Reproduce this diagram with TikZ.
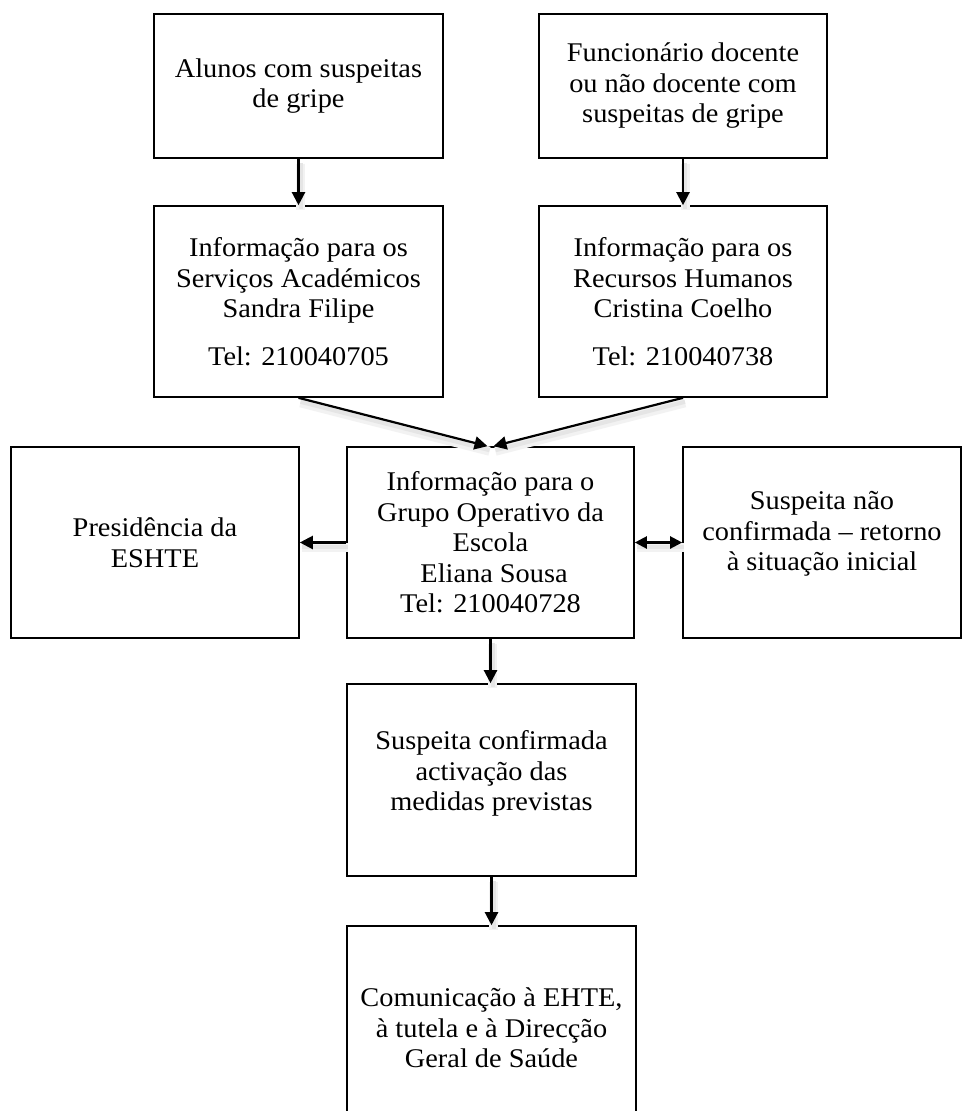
\documentclass[tikz,border=0pt]{standalone}
\usepackage{fontspec}
\setmainfont[FakeStretch=1.05]{Liberation Serif}
\usetikzlibrary{arrows.meta,calc}
\tikzset{
  box/.style={draw=black, line width=1.6pt, inner sep=0pt, align=center,
    font=\fontsize{27}{30.5}\selectfont},
  shadowed/.style={
    preaction={draw=black!5, line width=9pt, -, transform canvas={shift={(2pt,-5pt)}}},
    preaction={draw=black!10, line width=4pt, -, transform canvas={shift={(2pt,-4pt)}}}},
  arr/.style={-{Triangle[length=13pt,width=13pt]}, line width=2.2pt, shadowed},
  darr/.style={{Triangle[length=12pt,width=12pt]}-{Triangle[length=12pt,width=12pt]}, line width=2.2pt, shadowed}
}
\begin{document}
\begin{tikzpicture}[x=1pt,y=-1pt]
\useasboundingbox (0,0) rectangle (962,1111);
\clip (0,0) rectangle (962,1111);
\fill[white] (0,0) rectangle (962,1111);

\node[box, minimum width=289pt, minimum height=144pt] (A) at (298.5,86)
  {Alunos com suspeitas\\de gripe};
\node[box, minimum width=288pt, minimum height=144pt] (B) at (683,86)
  {Funcionário docente\\ou não docente com\\suspeitas de gripe};
\node[box, minimum width=289pt, minimum height=191pt] (C) at (298.5,301.5)
  {Informação para os\\Serviços Académicos\\Sandra Filipe\\[17pt]Tel: 210040705};
\node[box, minimum width=288pt, minimum height=191pt] (D) at (683,301.5)
  {Informação para os\\Recursos Humanos\\Cristina Coelho\\[17pt]Tel: 210040738};
\node[box, minimum width=288pt, minimum height=191pt] (E) at (155,542.5)
  {Presidência da\\ESHTE};
\node[box, minimum width=287pt, minimum height=191pt] (F) at (490.5,542.5)
  {Informação para o\\Grupo Operativo da\\Escola\\\ Eliana Sousa\\Tel: 210040728};
\node[box, minimum width=278pt, minimum height=191pt] (G) at (822,542.5)
  {Suspeita não\\confirmada – retorno\\à situação inicial\\[-8pt]\mbox{}};
\node[box, minimum width=289pt, minimum height=192pt] (H) at (491.5,780)
  {Suspeita confirmada\\activação das\\medidas previstas\\[-12pt]\mbox{}};
\node[box, minimum width=289pt, minimum height=204pt] (I) at (491.5,1028)
  {Comunicação à EHTE,\\à tutela e à Direcção\\Geral de Saúde};

\draw[arr] (A.south) -- (C.north);
\draw[arr] (B.south) -- (D.north);
\draw[arr] (C.south) -- ($(F.north)+(-3,0)$);
\draw[arr] (D.south) -- ($(F.north)+(3,0)$);
\draw[arr] (F.west) -- (E.east);
\draw[darr] (F.east) -- (G.west);
\draw[arr] (F.south) -- (F.south |- H.north);
\draw[arr] (H.south) -- (I.north);
\end{tikzpicture}
\end{document}
